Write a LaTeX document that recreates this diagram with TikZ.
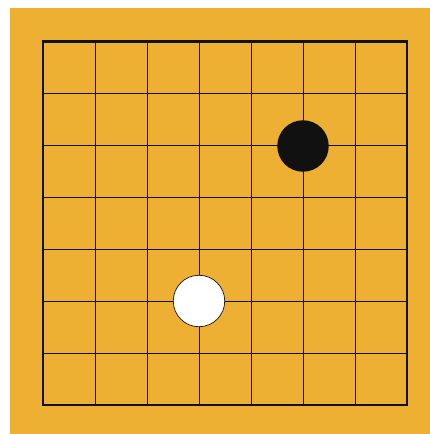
\documentclass[tikz,border=0pt]{standalone}
\usepackage{tikz}
\definecolor{BoardWood}{RGB}{238,176,50}
\definecolor{StoneBlack}{RGB}{17,17,17}
\tikzset{
  gridline/.style={draw=StoneBlack,line width=0.4pt},
  boardedge/.style={draw=StoneBlack,line width=1.7pt},
  stone/.style={circle,minimum size=1.03cm,inner sep=0pt},
}
\begin{document}
\begin{tikzpicture}[x=0.02cm,y=-0.02cm]
    \useasboundingbox (0,0) rectangle (430,434);
    \fill[BoardWood] (10,8) rectangle (430,434);
    % inner grid
    \foreach \i in {1,...,6} {
        \draw[gridline] (43+52*\i,41) -- (43+52*\i,405);
        \draw[gridline] (43,41+52*\i) -- (407,41+52*\i);
    }
    \draw[boardedge] (43,41) rectangle (407,405);
    % stones
    \node[stone,fill=StoneBlack] (b1) at (303,146) {};
    \node[stone,fill=white,draw=StoneBlack,line width=0.4pt] (w1) at (199,301) {};
\end{tikzpicture}
\end{document}
